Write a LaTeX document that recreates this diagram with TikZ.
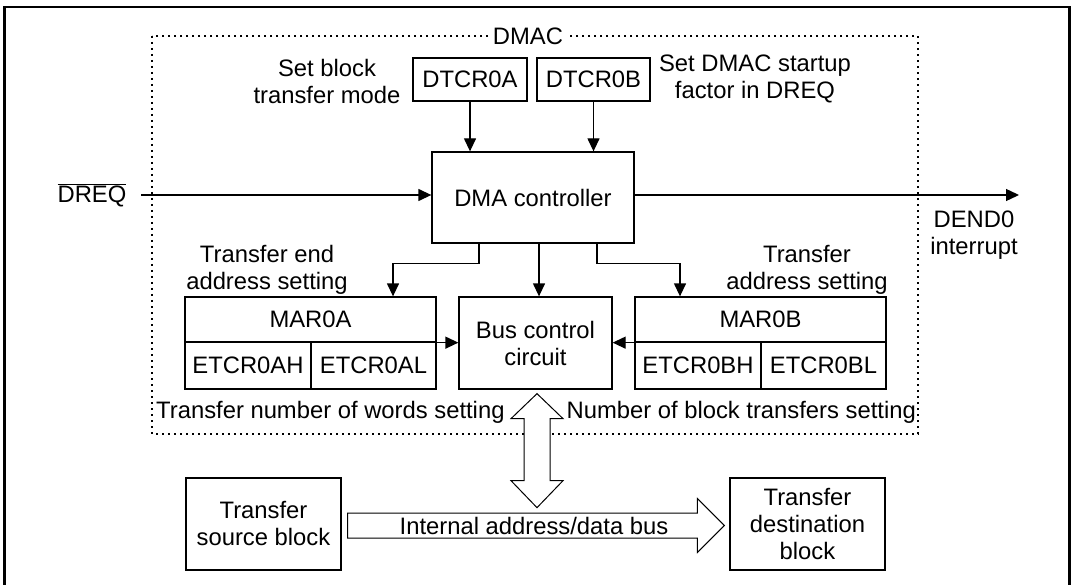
\documentclass[tikz,border=0pt]{standalone}
\usepackage{fontspec}
\setmainfont{Liberation Sans}
\usetikzlibrary{arrows.meta}
\begin{document}
\begin{tikzpicture}[x=1pt,y=-1pt,
  every node/.style={font=\fontsize{23.8pt}{27pt}\selectfont},
  box/.style={draw, line width=1.3pt, inner sep=0pt, align=center},
  lbl/.style={inner sep=0pt, align=center},
  arr/.style={line width=1.3pt, -{Triangle[length=13pt,width=12pt]}},
  fat/.style={line width=1pt, fill=white},
  dmacbox/.style={line width=1.3pt, dash pattern=on 1.6pt off 4.4pt}]
\useasboundingbox (0,0) rectangle (1075,585);
% outer frame
\draw[line width=2.6pt] (4.5,600) -- (4.5,7) -- (1069.5,7) -- (1069.5,600);
% DMAC dotted box
\draw[dmacbox] (152,36) rectangle (918,434);
\node[lbl, fill=white, inner xsep=4pt] (dmaclbl) at (528,36) {DMAC};
% registers top
\node[box, minimum width=114pt, minimum height=43pt] (dta) at (470,79.5) {DTCR0A};
\node[box, minimum width=113pt, minimum height=43pt] (dtb) at (593.5,79.5) {DTCR0B};
\node[lbl] (setblk) at (327,81) {Set block\\transfer mode};
\node[lbl] (setdmac) at (755,79) {Set DMAC startup\\factor in DREQ};
% DMA controller
\node[box, minimum width=202pt, minimum height=91pt] (dma) at (533,197.5) {DMA controller};
\node[lbl] (dreq) at (92,195) {$\overline{\mbox{DREQ}}$};
\coordinate (dreqs) at (141,195);
\coordinate (dendc) at (1019,195);
\node[lbl] (dend) at (974,235) {DEND0\\interrupt};
% MAR0A group
\node[box, minimum width=251pt, minimum height=45pt] (mara) at (310.5,319.5) {MAR0A};
\node[box, minimum width=126pt, minimum height=47pt] (etah) at (248,365.5) {ETCR0AH};
\node[box, minimum width=125pt, minimum height=47pt] (etal) at (373.5,365.5) {ETCR0AL};
% Bus control
\node[box, minimum width=153pt, minimum height=92pt] (bus) at (535.5,343) {Bus control\\circuit};
% MAR0B group
\node[box, minimum width=251pt, minimum height=45pt] (marb) at (760.5,319.5) {MAR0B};
\node[box, minimum width=126pt, minimum height=47pt] (etbh) at (698,365.5) {ETCR0BH};
\node[box, minimum width=125pt, minimum height=47pt] (etbl) at (823.5,365.5) {ETCR0BL};
% labels
\node[lbl] (tend) at (267,270) {Transfer end\\address setting};
\node[lbl] (taddr) at (807,270) {Transfer\\address setting};
\node[lbl, anchor=west] (tnw) at (156,412) {Transfer number of words setting};
\node[lbl, anchor=east] (nbt) at (916,412) {Number of block transfers setting};
% bottom blocks
\node[box, minimum width=155pt, minimum height=92pt] (src) at (263.5,524) {Transfer\\source block};
\node[box, minimum width=155pt, minimum height=92pt] (dst) at (807.5,524) {Transfer\\destination\\block};
% arrows
\draw[arr] (dta.south) -- (dta.south |- dma.north);
\draw[arr] (dtb.south) -- (dtb.south |- dma.north);
\draw[arr] (dreqs) -- (dreqs -| dma.west);
\draw[arr] (dma.east |- dendc) -- (dendc);
\draw[arr] ([xshift=-54pt]dma.south) -- ++(0,20) -| ([xshift=82.5pt]mara.north);
\draw[arr] ([xshift=6pt]dma.south) -- ([xshift=6pt]dma.south |- bus.north);
\draw[arr] ([xshift=64pt]dma.south) -- ++(0,20) -| ([xshift=-80.5pt]marb.north);
\draw[arr] (mara.south east) -- (mara.south east -| bus.west);
\draw[arr] (marb.south west) -- (marb.south west -| bus.east);
% vertical double arrow
\coordinate (va) at ([xshift=1.5pt,yshift=-4pt]bus.south);
\draw[fat] (va) -- ++(26,25) -- ++(-13,0) -- ++(0,62) -- ++(13,0) -- ++(-26,27)
  -- ++(-26,-27) -- ++(13,0) -- ++(0,-62) -- ++(-13,0) -- cycle;
% horizontal fat arrow
\coordinate (ha) at ([xshift=6pt,yshift=-1.5pt]src.east);
\coordinate (hb) at ([xshift=-5pt,yshift=-1.5pt]dst.west);
\draw[fat] ([yshift=12.5pt]ha) -- ([xshift=-27pt,yshift=12.5pt]hb) -- ([xshift=-27pt,yshift=27pt]hb)
  -- (hb) -- ([xshift=-27pt,yshift=-27pt]hb) -- ([xshift=-27pt,yshift=-12.5pt]hb)
  -- ([yshift=-12.5pt]ha) -- cycle;
\node[lbl] (busl) at (534,526) {Internal address/data bus};
\end{tikzpicture}
\end{document}
